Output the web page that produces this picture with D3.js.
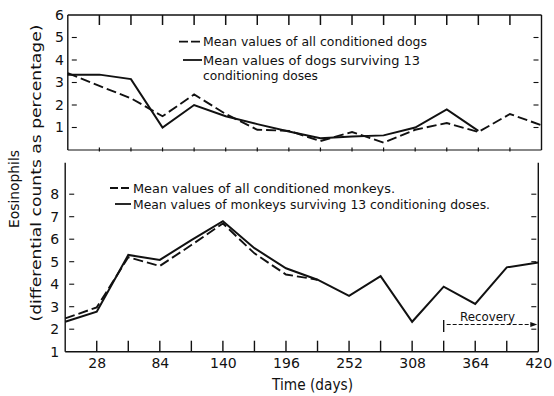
<!DOCTYPE html>
<html><head><meta charset="utf-8">
<script src="https://cdn.jsdelivr.net/npm/d3@7"></script>
<style>
body{margin:0;background:#fff}
svg{display:block}
text{font-family:"DejaVu Sans",sans-serif;fill:#111}
</style>
</head><body><svg id="c" width="554" height="396"></svg>
<script>
// ---- data ----
const days = [0,28,56,84,112,140,168,196,224,252,280,308,336,364,392,420];
const dogsAll = [3.42,2.85,2.3,1.5,2.47,1.6,0.9,0.85,0.4,0.8,0.33,0.9,1.2,0.8,1.6,1.1];
const dogsSurv = [3.35,3.35,3.15,1.0,2.0,1.5,1.15,0.82,0.52,0.6,0.65,1.0,1.8,0.85];
const monkeysAll = [2.48,2.97,5.2,4.81,5.74,6.7,5.37,4.43,4.2];
const monkeysSurv = [2.33,2.78,5.3,5.08,5.96,6.8,5.6,4.71,4.2,3.48,4.36,2.33,3.89,3.12,4.75,4.96];
const xTickLabels = [28,84,140,196,252,308,364,420];
const xMinorTicks = [28,56,84,112,140,168,196,224,252,280,308,336,364,392];
const dogYTicks = [1,2,3,4,5,6];
const monkeyYTicks = [1,2,3,4,5,6,7,8];
const dogLegend = ["Mean values of all conditioned dogs","Mean values of dogs surviving 13","conditioning doses"];
const monkeyLegend = ["Mean values of all conditioned monkeys.","Mean values of monkeys surviving 13 conditioning doses."];
const yTitle = ["Eosinophils","(differential counts as percentage)"];
const xTitle = "Time (days)";
const recoveryLabel = "Recovery";
const recoveryStart = 336;

// ---- scales ----
const svg = d3.select("#c");
svg.append("rect").attr("width",554).attr("height",396).attr("fill","#fff");
const xTop = d3.scaleLinear([0,420],[67.8,541.5]);
const yTop = d3.scaleLinear([0,6],[150,15]);
const xBot = d3.scaleLinear([0,420],[65.2,538.3]);
const yBot = d3.scaleLinear([1,9.4],[351.7,162.7]);
const ink = "#111";

function seg(x1,y1,x2,y2,w){return svg.append("line").attr("x1",x1).attr("y1",y1).attr("x2",x2).attr("y2",y2).attr("stroke",ink).attr("stroke-width",w||1.3);}

// ---- top panel frame ----
const [tx0,tx1] = xTop.range(), [ty1,ty0] = yTop.range();
seg(tx0,ty0,tx1,ty0,1.4); seg(tx0,ty1,tx1,ty1,1.2); seg(tx0,ty0,tx0,ty1,1.4); seg(tx1,ty0,tx1,ty1,1.4);
xMinorTicks.forEach(d=>{ seg(xTop(d),ty0,xTop(d),ty0+10,1.5); seg(xTop(d),ty1-2.5,xTop(d),ty1+1.5,1.2); });
dogYTicks.filter(v=>v<6).forEach(v=>{ seg(tx0+4,yTop(v),tx0+9,yTop(v),1.1); seg(tx1-8,yTop(v),tx1-3,yTop(v),1.1); });

const gTopY = svg.append("g").attr("transform",`translate(${tx0-4},0)`)
  .call(d3.axisLeft(yTop).tickValues(dogYTicks).tickSize(0).tickPadding(0).tickFormat(d3.format("d")));
gTopY.select(".domain").remove();
gTopY.selectAll("text").attr("font-size",14).attr("font-family","DejaVu Sans").attr("fill",ink);

// ---- bottom panel frame ----
const [bx0,bx1] = xBot.range(), [by1,by0] = yBot.range();
seg(bx0,by0,bx0,by1,1.4); seg(bx0,by1,bx1,by1,1.4); seg(bx1,by0,bx1,by1,1.4);
xMinorTicks.forEach(d=>{ seg(xBot(d),by1,xBot(d),by1-11,1.4); });
monkeyYTicks.filter(v=>v>1).forEach(v=>{ seg(bx0+4,yBot(v),bx0+9,yBot(v),1.1); seg(bx1-7,yBot(v),bx1-2,yBot(v),1.1); });

const gBotY = svg.append("g").attr("transform",`translate(${bx0-6},0)`)
  .call(d3.axisLeft(yBot).tickValues(monkeyYTicks).tickSize(0).tickPadding(0).tickFormat(d3.format("d")));
gBotY.select(".domain").remove();
gBotY.selectAll("text").attr("font-size",14).attr("font-family","DejaVu Sans").attr("fill",ink);

const gBotX = svg.append("g").attr("transform",`translate(0,${by1})`)
  .call(d3.axisBottom(xBot).tickValues(xTickLabels).tickSize(0).tickPadding(6).tickFormat(d3.format("d")));
gBotX.select(".domain").remove();
gBotX.selectAll("text").attr("font-size",14).attr("font-family","DejaVu Sans").attr("fill",ink);

// ---- lines ----
function drawLine(xs,ys,vals,dash){
  const line = d3.line().x((d,i)=>xs(days[i])).y(d=>ys(d));
  svg.append("path").datum(vals).attr("d",line).attr("fill","none").attr("stroke",ink)
    .attr("stroke-width",dash?1.9:2.0).attr("stroke-linejoin","miter")
    .attr("stroke-dasharray",dash?"10,4":null);
}
drawLine(xTop,yTop,dogsAll,true);
drawLine(xTop,yTop,dogsSurv,false);
drawLine(xBot,yBot,monkeysAll,true);
drawLine(xBot,yBot,monkeysSurv,false);

// ---- legends ----
function txt(s,x,y,size,len,anchor){
  const t = svg.append("text").attr("x",x).attr("y",y).attr("font-size",size).text(s);
  if(len) t.attr("textLength",len).attr("lengthAdjust","spacingAndGlyphs");
  if(anchor) t.attr("text-anchor",anchor);
  return t;
}
seg(179,41.7,202,41.7,1.8).attr("stroke-dasharray","9,3");
seg(183,60,202,60,1.8);
txt(dogLegend[0],203,46,12,224);
txt(dogLegend[1],203,64.5,12,217);
txt(dogLegend[2],203,79.5,12,115);

seg(110,188,131,188,1.8).attr("stroke-dasharray","8,3");
seg(115,204,131,204,1.8);
txt(monkeyLegend[0],133,192.5,12,262);
txt(monkeyLegend[1],133,208.5,12,357);

// ---- recovery annotation ----
const rx = xBot(recoveryStart);
seg(rx,320,rx,332,1.4);
svg.append("line").attr("x1",rx+3).attr("y1",324.5).attr("x2",bx1-2).attr("y2",324.5)
  .attr("stroke",ink).attr("stroke-width",1).attr("stroke-dasharray","4,2");
svg.append("path").attr("d",`M${bx1-1},324.5 l-7,-2.5 l0,5 z`).attr("fill",ink);
txt(recoveryLabel,487.5,321,12,55,"middle");

// ---- axis titles ----
svg.append("text").attr("transform","translate(19,189) rotate(-90)").attr("text-anchor","middle")
  .attr("font-size",14).attr("textLength",78).attr("lengthAdjust","spacingAndGlyphs").text(yTitle[0]);
svg.append("text").attr("transform","translate(41,173) rotate(-90)").attr("text-anchor","middle")
  .attr("font-size",14).attr("textLength",297).attr("lengthAdjust","spacingAndGlyphs").text(yTitle[1]);
txt(xTitle,312.5,390,15,81,"middle");
</script>
</body></html>
